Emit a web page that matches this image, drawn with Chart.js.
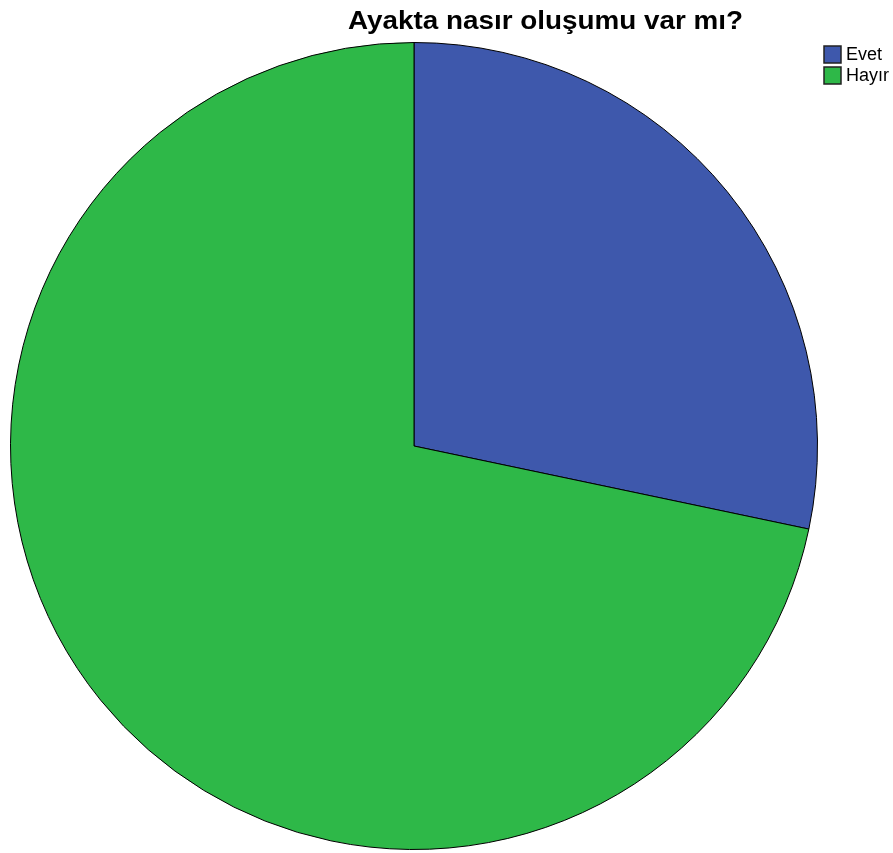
<!DOCTYPE html>
<html>
<head>
<meta charset="utf-8">
<title>Ayakta nasır oluşumu var mı?</title>
<script src="https://cdn.jsdelivr.net/npm/chart.js@4/dist/chart.umd.min.js"></script>
<style>
  html, body { margin: 0; padding: 0; background: #fff; }
  #wrap { width: 893px; height: 853px; position: relative; }
</style>
</head>
<body>
<div id="wrap"><canvas id="pieChart" width="893" height="853"></canvas></div>
<script>
// answers and their shares (%)
const labels = ["Evet", "Hayır"];
const shares = [28.3, 71.7];
const sliceColors = ["#3e58ac", "#2eb848"];
const chartTitle = "Ayakta nasır oluşumu var mı?";

// title and little boxed legend, drawn on top of the pie
const decorations = {
  id: "decorations",
  afterDraw(chart) {
    const ctx = chart.ctx;
    ctx.save();
    ctx.fillStyle = "#000";
    ctx.font = "bold 25px 'Liberation Sans', Arial, sans-serif";
    ctx.textAlign = "left";
    ctx.textBaseline = "alphabetic";
    // title is set a bit wide, stretch it to ~395px
    const tw = ctx.measureText(chartTitle).width;
    const sx = 395 / tw;
    ctx.save();
    ctx.translate(348, 29);
    ctx.scale(sx, 1);
    ctx.fillText(chartTitle, 0, 0);
    ctx.restore();

    const ds = chart.data.datasets[0];
    ctx.font = "18px 'Liberation Sans Narrow', 'Liberation Sans', Arial, sans-serif";
    ctx.textBaseline = "middle";
    chart.data.labels.forEach((lab, i) => {
      const y = 46 + i * 21;
      ctx.fillStyle = ds.backgroundColor[i];
      ctx.fillRect(824, y, 17, 17);
      ctx.strokeStyle = "#222";
      ctx.lineWidth = 1.5;
      ctx.strokeRect(824, y, 17, 17);
      ctx.fillStyle = "#000";
      ctx.fillText(lab, 846, y + 9.5);
    });
    ctx.restore();
  },
};

new Chart(document.getElementById("pieChart"), {
  type: "pie",
  data: {
    labels: labels,
    datasets: [
      {
        data: shares,
        backgroundColor: sliceColors,
        borderColor: "#000",
        borderWidth: 1,
        hoverOffset: 0,
      },
    ],
  },
  options: {
    responsive: false,
    animation: false,
    layout: { padding: { left: 10, right: 75, top: 42, bottom: 3 } },
    plugins: {
      legend: { display: false },
      tooltip: { enabled: false },
    },
  },
  plugins: [decorations],
});
</script>
</body>
</html>
